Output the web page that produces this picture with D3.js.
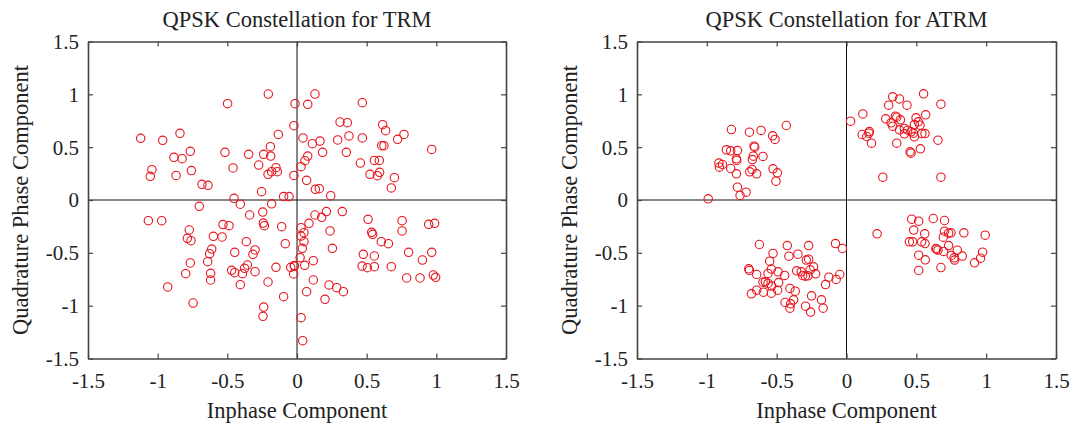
<!DOCTYPE html>
<html><head><meta charset="utf-8">
<script src="https://cdn.jsdelivr.net/npm/d3@7"></script>
<style>body{margin:0;background:#fff}svg{display:block}text{font-family:"Liberation Serif","Times New Roman",serif;fill:#222}</style>
</head><body><svg id="c" width="1074" height="428"></svg>
<script>
const ticks = [-1.5, -1, -0.5, 0, 0.5, 1, 1.5];
const tickLabels = ["-1.5", "-1", "-0.5", "0", "0.5", "1", "1.5"];
const titles = ["QPSK Constellation for TRM", "QPSK Constellation for ATRM"];
const xLabel = "Inphase Component";
const yLabel = "Quadrature Phase Component";

// TRM constellation (I, Q)
const trmI = [-0.206,-0.498,-0.014,-0.022,-0.134,-1.122,-0.964,-0.840,-0.191,-0.766,-0.517,-0.347,-0.239,-0.189,-0.883,-0.825,-0.275,-1.041,-1.053,-0.868,-0.758,-0.459,-0.151,-0.182,-0.208,-0.141,-0.022,-0.682,-0.639,-0.254,-0.096,-0.057,-0.452,-0.701,-0.407,-0.182,
 0.129,0.077,0.469,0.309,0.361,0.615,0.636,0.768,0.722,0.373,0.469,0.292,0.165,0.110,0.043,0.608,0.624,0.967,0.184,0.354,0.077,0.057,0.029,0.555,0.591,0.455,0.524,0.577,0.593,0.699,0.069,0.132,0.160,0.677,0.242,
 -1.067,-0.971,-0.773,-0.787,-0.761,-0.600,-0.531,-0.488,-0.538,-0.340,-0.246,-0.242,-0.234,-0.110,-0.364,-0.301,-0.316,-0.447,-0.612,-0.627,-0.641,-0.766,-0.799,-0.620,-0.620,-0.469,-0.447,-0.392,-0.356,-0.376,-0.301,-0.407,-0.208,-0.151,-0.084,-0.045,-0.019,-0.024,-0.096,-0.928,-0.746,-0.239,-0.244,
 0.129,0.177,0.211,0.325,0.086,0.029,0.050,0.029,0.050,0.038,0.022,-0.019,0.055,0.117,0.237,0.254,0.510,0.536,0.543,0.605,0.656,0.754,0.754,0.945,0.988,0.476,0.555,0.467,0.505,0.555,0.677,0.801,0.900,0.967,0.787,0.883,0.978,0.995,0.117,0.230,0.285,0.333,0.069,0.201,0.029,0.041];
const trmQ = [1.003,0.912,0.912,0.703,0.621,0.584,0.565,0.631,0.505,0.461,0.451,0.432,0.432,0.416,0.404,0.391,0.331,0.287,0.224,0.233,0.278,0.303,0.306,0.268,0.243,0.268,0.233,0.148,0.139,0.079,0.032,0.032,0.016,-0.060,-0.040,-0.036,
 1.003,0.905,0.921,0.738,0.732,0.713,0.656,0.621,0.574,0.606,0.587,0.568,0.558,0.533,0.587,0.514,0.514,0.479,0.451,0.451,0.416,0.372,0.315,0.375,0.375,0.350,0.243,0.230,0.262,0.211,0.186,0.101,0.107,0.114,0.041,
 -0.196,-0.196,-0.284,-0.363,-0.385,-0.344,-0.233,-0.243,-0.350,-0.142,-0.114,-0.218,-0.243,-0.252,-0.394,-0.473,-0.514,-0.495,-0.464,-0.508,-0.584,-0.596,-0.697,-0.694,-0.757,-0.666,-0.688,-0.697,-0.615,-0.647,-0.678,-0.801,-0.776,-0.637,-0.413,-0.637,-0.621,-0.700,-0.915,-0.823,-0.975,-1.013,-1.101,
 -0.142,-0.164,-0.110,-0.110,-0.221,-0.262,-0.309,-0.341,-0.394,-0.457,-0.546,-0.625,-0.618,-0.574,-0.293,-0.457,-0.183,-0.306,-0.325,-0.394,-0.413,-0.196,-0.293,-0.230,-0.221,-0.514,-0.530,-0.625,-0.640,-0.631,-0.631,-0.495,-0.568,-0.495,-0.738,-0.738,-0.710,-0.732,-0.757,-0.804,-0.830,-0.868,-0.868,-0.940,-1.114,-1.331];

// ATRM constellation (I, Q)
const atrmI = [-0.431,-0.824,-0.695,-0.612,-0.529,-0.512,-0.662,-0.657,-0.860,-0.829,-0.781,-0.788,-0.786,-0.667,-0.598,-0.674,-0.914,-0.888,-0.910,-0.829,-0.788,-0.693,-0.676,-0.643,-0.526,-0.495,-0.505,-0.781,-0.719,-0.762,-0.990,
 0.029,0.331,0.379,0.552,0.302,0.433,0.676,0.117,0.281,0.350,0.360,0.386,0.319,0.331,0.498,0.514,0.567,0.486,0.526,0.379,0.414,0.438,0.414,0.462,0.479,0.486,0.540,0.562,0.164,0.160,0.112,0.145,0.179,0.360,0.655,0.529,0.455,0.462,0.260,0.676,
 -0.624,-0.424,-0.271,-0.526,-0.412,-0.348,-0.550,-0.288,-0.271,-0.700,-0.695,-0.643,-0.538,-0.562,-0.490,-0.443,-0.357,-0.324,-0.314,-0.295,-0.276,-0.260,-0.236,-0.221,-0.598,-0.581,-0.562,-0.536,-0.486,-0.643,-0.681,-0.595,-0.538,-0.493,-0.405,-0.367,-0.440,-0.400,-0.379,-0.405,-0.293,-0.257,-0.250,-0.179,-0.167,-0.150,-0.126,-0.074,-0.048,-0.079,-0.029,
 0.219,0.467,0.517,0.621,0.702,0.481,0.560,0.702,0.731,0.748,0.693,0.840,0.993,0.450,0.474,0.538,0.562,0.640,0.655,0.695,0.731,0.793,0.517,0.564,0.750,0.771,0.774,0.829,0.917,0.960,0.974,0.517,0.676,0.645];
const atrmQ = [0.705,0.667,0.642,0.658,0.607,0.573,0.509,0.500,0.475,0.465,0.468,0.390,0.374,0.415,0.412,0.383,0.349,0.336,0.311,0.298,0.248,0.267,0.289,0.248,0.295,0.257,0.178,0.121,0.074,0.043,0.011,
 0.746,0.976,0.957,1.005,0.897,0.897,0.907,0.815,0.768,0.793,0.784,0.759,0.730,0.699,0.778,0.740,0.806,0.714,0.708,0.664,0.677,0.661,0.626,0.645,0.632,0.598,0.629,0.629,0.648,0.632,0.620,0.601,0.538,0.538,0.566,0.484,0.456,0.443,0.216,0.216,
 -0.421,-0.431,-0.431,-0.506,-0.532,-0.513,-0.579,-0.569,-0.560,-0.651,-0.667,-0.705,-0.654,-0.695,-0.680,-0.714,-0.670,-0.680,-0.714,-0.721,-0.718,-0.661,-0.632,-0.699,-0.778,-0.774,-0.790,-0.815,-0.781,-0.853,-0.888,-0.872,-0.882,-0.853,-0.837,-0.863,-0.970,-0.983,-0.945,-1.024,-1.005,-1.061,-0.907,-0.945,-1.024,-0.800,-0.730,-0.752,-0.705,-0.412,-0.459,
 -0.320,-0.181,-0.200,-0.175,-0.194,-0.285,-0.320,-0.295,-0.314,-0.311,-0.352,-0.311,-0.333,-0.396,-0.396,-0.396,-0.412,-0.459,-0.475,-0.487,-0.431,-0.475,-0.522,-0.566,-0.525,-0.547,-0.569,-0.531,-0.595,-0.551,-0.494,-0.667,-0.639,-0.466];

const svg = d3.select("#c");
const panels = [
  {I: trmI, Q: trmQ, x0: 88, x1: 506, title: titles[0], ylabX: 28},
  {I: atrmI, Q: atrmQ, x0: 637, x1: 1056, title: titles[1], ylabX: 577}
];
const yTop = 41.5, yBot = 358.5;

panels.forEach(p => {
  const x = d3.scaleLinear().domain([-1.5, 1.5]).range([p.x0, p.x1]);
  const y = d3.scaleLinear().domain([-1.5, 1.5]).range([yBot, yTop]);
  const g = svg.append("g");

  // zero lines
  g.append("line").attr("x1", x(-1.5)).attr("x2", x(1.5)).attr("y1", y(0)).attr("y2", y(0))
    .attr("stroke", "#111").attr("stroke-width", 1);
  g.append("line").attr("x1", x(0)).attr("x2", x(0)).attr("y1", y(-1.5)).attr("y2", y(1.5))
    .attr("stroke", "#111").attr("stroke-width", 1);

  // points
  g.append("g").selectAll("circle").data(p.I.map((v, i) => [v, p.Q[i]])).join("circle")
    .attr("cx", d => x(d[0])).attr("cy", d => y(d[1])).attr("r", 4.2)
    .attr("fill", "none").attr("stroke", "#e8141c").attr("stroke-width", 1.1);

  // axes (ticks pointing inward)
  const fmt = (d) => tickLabels[ticks.indexOf(d)];
  const bottom = g.append("g").attr("transform", `translate(0,${yBot})`).call(d3.axisBottom(x).tickValues(ticks).tickFormat(fmt).tickSizeInner(-5).tickSizeOuter(0));
  const top = g.append("g").attr("transform", `translate(0,${yTop})`).call(d3.axisTop(x).tickValues(ticks).tickFormat("").tickSizeInner(-5).tickSizeOuter(0));
  const left = g.append("g").attr("transform", `translate(${p.x0},0)`).call(d3.axisLeft(y).tickValues(ticks).tickFormat(fmt).tickSizeInner(-5).tickSizeOuter(0).tickPadding(9));
  const right = g.append("g").attr("transform", `translate(${p.x1},0)`).call(d3.axisRight(y).tickValues(ticks).tickFormat("").tickSizeInner(-5).tickSizeOuter(0));
  [bottom, top, left, right].forEach(a => {
    a.select(".domain").attr("stroke", "#444").attr("stroke-width", 1.6);
    a.selectAll(".tick line").attr("stroke", "#444").attr("stroke-width", 1.2);
    a.selectAll(".tick text").attr("font-family", "Liberation Serif").attr("font-size", 21).attr("fill", "#222");
  });
  bottom.selectAll(".tick text").attr("dy", null).attr("y", 29.5);
  left.selectAll(".tick text").attr("dy", "0.33em");

  g.append("text").attr("x", (p.x0 + p.x1) / 2).attr("y", 27).attr("text-anchor", "middle")
    .attr("font-size", 22.5).text(p.title);
  g.append("text").attr("x", (p.x0 + p.x1) / 2).attr("y", 418).attr("text-anchor", "middle")
    .attr("font-size", 22.5).text(xLabel);
  g.append("text").attr("transform", `translate(${p.ylabX},${(yTop + yBot) / 2}) rotate(-90)`)
    .attr("text-anchor", "middle").attr("font-size", 22.5).text(yLabel);
});
</script></body></html>
